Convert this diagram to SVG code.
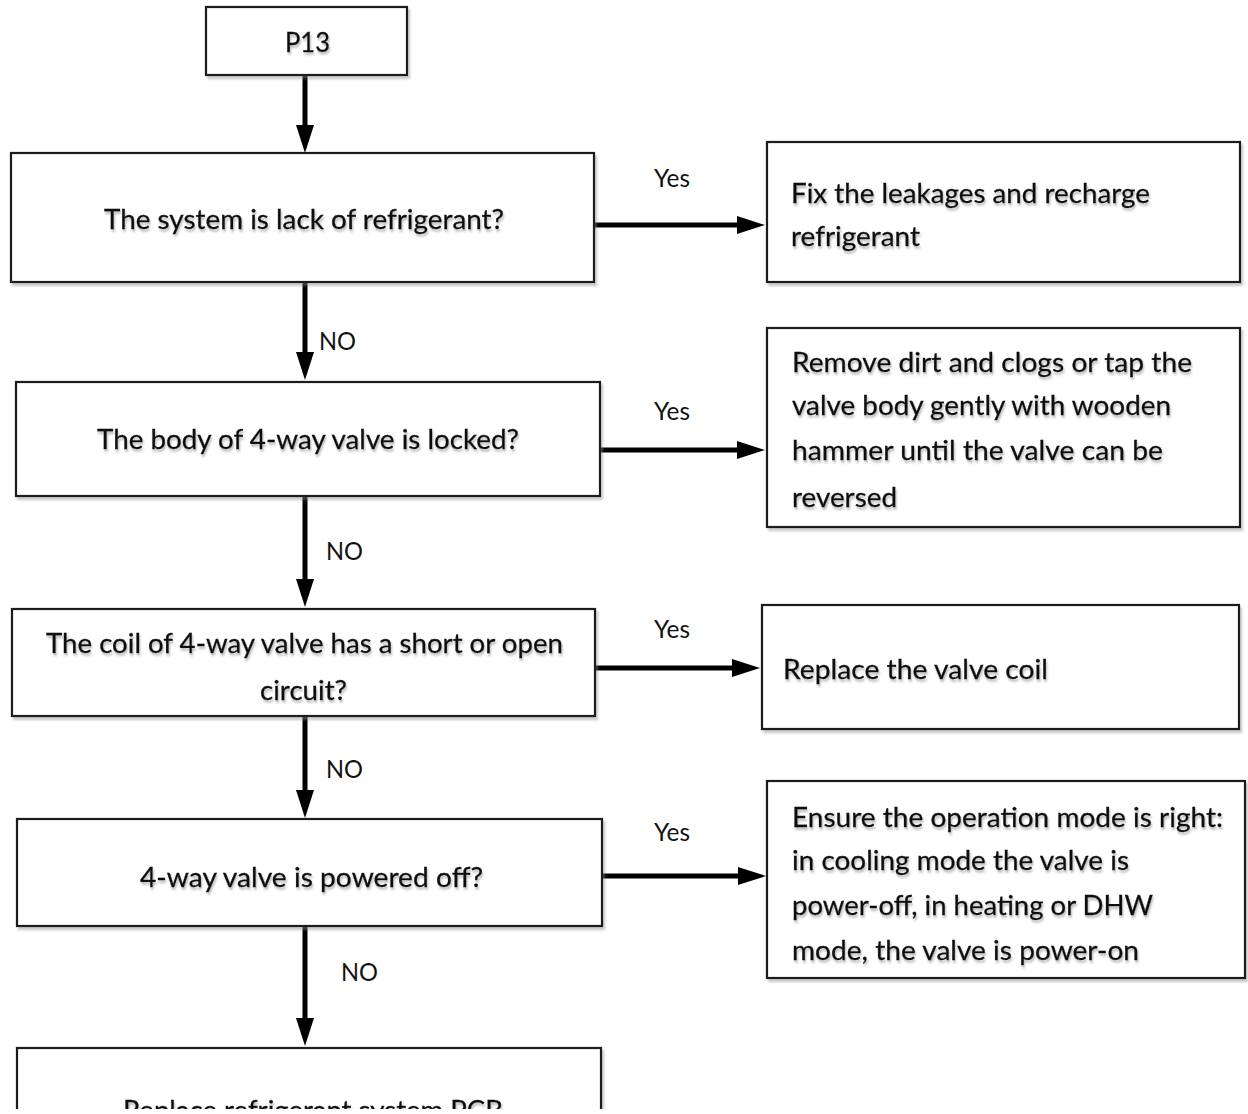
<svg xmlns="http://www.w3.org/2000/svg" width="1248" height="1114" viewBox="0 0 1248 1114">
<style>
.box{fill:#fff;stroke:#1a1a1a;stroke-width:2.2;filter:url(#bs)}
.t{font-family:Lato,"Open Sans","Liberation Sans",sans-serif;font-size:27px;fill:#0a0a0a;stroke:#0a0a0a;stroke-width:0.3;filter:url(#ts)}
.lbl{font-family:Lato,"Open Sans","Liberation Sans",sans-serif;font-size:25px;fill:#111}
.c{fill:none;stroke:#000;stroke-width:5;marker-end:url(#ah)}
</style>
<defs>
<filter id="bs" x="-5%" y="-5%" width="110%" height="115%">
<feDropShadow dx="2" dy="3" stdDeviation="1.2" flood-color="#888" flood-opacity="0.45"/>
</filter>
<filter id="ts" x="-5%" y="-20%" width="110%" height="150%">
<feDropShadow dx="1" dy="2.5" stdDeviation="1.2" flood-color="#777" flood-opacity="0.55"/>
</filter>
<marker id="ah" viewBox="0 0 28 18" refX="8" refY="9" markerWidth="28" markerHeight="18" markerUnits="userSpaceOnUse" orient="auto">
<path d="M0,0 L28,9 L0,18 z" fill="#000"/>
</marker>
<clipPath id="clip"><rect x="0" y="0" width="1248" height="1109"/></clipPath>
</defs>
<rect width="1248" height="1114" fill="#fff"/>
<g clip-path="url(#clip)">
<g id="connectors">
<path class="c" d="M305,75 V133"/>
<path class="c" d="M594,225 H745"/>
<path class="c" d="M305,282 V360"/>
<path class="c" d="M600,450 H745"/>
<path class="c" d="M305,496 V587"/>
<path class="c" d="M595,668 H740"/>
<path class="c" d="M305,716 V798"/>
<path class="c" d="M602,876 H746"/>
<path class="c" d="M305,926 V1026"/>
<text class="lbl" x="654" y="187" textLength="36" lengthAdjust="spacingAndGlyphs">Yes</text>
<text class="lbl" x="319" y="350" textLength="37" lengthAdjust="spacingAndGlyphs">NO</text>
<text class="lbl" x="654" y="420" textLength="36" lengthAdjust="spacingAndGlyphs">Yes</text>
<text class="lbl" x="326" y="560" textLength="37" lengthAdjust="spacingAndGlyphs">NO</text>
<text class="lbl" x="654" y="638" textLength="36" lengthAdjust="spacingAndGlyphs">Yes</text>
<text class="lbl" x="326" y="778" textLength="37" lengthAdjust="spacingAndGlyphs">NO</text>
<text class="lbl" x="654" y="841" textLength="36" lengthAdjust="spacingAndGlyphs">Yes</text>
<text class="lbl" x="341" y="981" textLength="37" lengthAdjust="spacingAndGlyphs">NO</text>
</g>
<g id="p13">
<rect class="box" x="206" y="7" width="201" height="68"/>
<text class="t" x="285" y="52" textLength="45" lengthAdjust="spacingAndGlyphs">P13</text>
</g>
<g id="q1">
<rect class="box" x="11" y="153" width="583" height="129"/>
<text class="t" x="104" y="229" textLength="400" lengthAdjust="spacingAndGlyphs">The system is lack of refrigerant?</text>
</g>
<g id="a1">
<rect class="box" x="767" y="142" width="473" height="140"/>
<text class="t" x="791" y="203" textLength="359" lengthAdjust="spacingAndGlyphs">Fix the leakages and recharge</text>
<text class="t" x="791" y="246" textLength="129" lengthAdjust="spacingAndGlyphs">refrigerant</text>
</g>
<g id="q2">
<rect class="box" x="16" y="382" width="584" height="114"/>
<text class="t" x="97" y="449" textLength="422" lengthAdjust="spacingAndGlyphs">The body of 4-way valve is locked?</text>
</g>
<g id="a2">
<rect class="box" x="767" y="328" width="473" height="199"/>
<text class="t" x="792" y="372" textLength="400" lengthAdjust="spacingAndGlyphs">Remove dirt and clogs or tap the</text>
<text class="t" x="792" y="415" textLength="379" lengthAdjust="spacingAndGlyphs">valve body gently with wooden</text>
<text class="t" x="792" y="460" textLength="371" lengthAdjust="spacingAndGlyphs">hammer until the valve can be</text>
<text class="t" x="792" y="507" textLength="105" lengthAdjust="spacingAndGlyphs">reversed</text>
</g>
<g id="q3">
<rect class="box" x="12" y="609" width="583" height="107"/>
<text class="t" x="46" y="653" textLength="517" lengthAdjust="spacingAndGlyphs">The coil of 4-way valve has a short or open</text>
<text class="t" x="260" y="700" textLength="87" lengthAdjust="spacingAndGlyphs">circuit?</text>
</g>
<g id="a3">
<rect class="box" x="762" y="605" width="477" height="124"/>
<text class="t" x="783" y="679" textLength="265" lengthAdjust="spacingAndGlyphs">Replace the valve coil</text>
</g>
<g id="q4">
<rect class="box" x="17" y="819" width="585" height="107"/>
<text class="t" x="140" y="887" textLength="343" lengthAdjust="spacingAndGlyphs">4-way valve is powered off?</text>
</g>
<g id="a4">
<rect class="box" x="767" y="781" width="478" height="197"/>
<text class="t" x="792" y="827" textLength="431" lengthAdjust="spacingAndGlyphs">Ensure the operation mode is right:</text>
<text class="t" x="792" y="870" textLength="337" lengthAdjust="spacingAndGlyphs">in cooling mode the valve is</text>
<text class="t" x="792" y="915" textLength="361" lengthAdjust="spacingAndGlyphs">power-off, in heating or DHW</text>
<text class="t" x="792" y="960" textLength="347" lengthAdjust="spacingAndGlyphs">mode, the valve is power-on</text>
</g>
<g id="q5">
<rect class="box" x="17" y="1048" width="584" height="110"/>
<text class="t" x="123" y="1120" textLength="380" lengthAdjust="spacingAndGlyphs">Replace refrigerant system PCB</text>
</g>
</g>
</svg>
